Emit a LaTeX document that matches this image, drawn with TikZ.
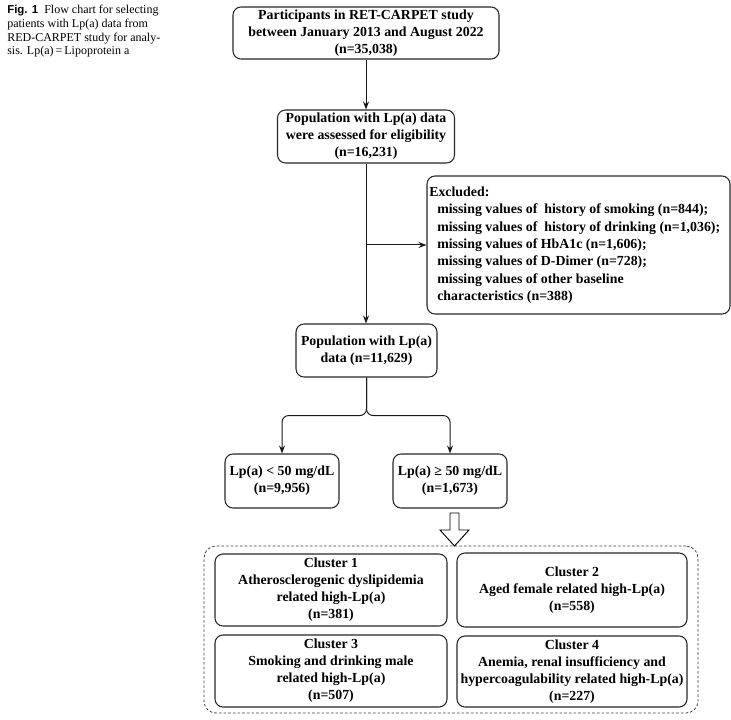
\documentclass[tikz,border=0pt]{standalone}
\usepackage{fontspec}
\setmainfont{Liberation Serif}
\newfontfamily\capsans{Liberation Sans}
\usetikzlibrary{arrows.meta}
\begin{document}
\begin{tikzpicture}[x=0.75pt,y=-0.75pt,
  bx/.style 2 args={draw=black!85, line width=0.8pt, rounded corners=6pt,
    minimum width=#1*0.75pt, minimum height=#2*0.75pt, inner sep=0pt,
    align=center, font=\fontsize{10.4}{12.8}\selectfont\bfseries},
  conn/.style={draw=black!90, line width=0.75pt, -{Stealth[length=6pt,width=4.5pt]}},
  grpbox/.style={draw=black!75, line width=0.6pt, dash pattern=on 2pt off 1.5pt,
    rounded corners=9pt, minimum width=494*0.75pt, minimum height=167*0.75pt, inner sep=0pt},
]
\useasboundingbox (0,0) rectangle (731,720);

% caption
\node[anchor=north west, align=left, inner sep=0pt,
      font=\fontsize{9}{10.3}\selectfont] (cap) at (7,5)
  {{\capsans\bfseries\fontsize{8.6}{10.3}\selectfont Fig. 1}\enspace Flow chart for selecting\\
   patients with Lp(a) data from\\
   RED-CARPET study for analy-\\
   sis. Lp(a)\,=\,Lipoprotein a};

% main boxes
\node[bx={266}{52}] (b1) at (366,33)
  {Participants in RET-CARPET study\\between January 2013 and August 2022\\(n=35,038)};
\node[bx={177}{53}] (b2) at (366,136.5)
  {Population with Lp(a) data\\were assessed for eligibility\\(n=16,231)};
\node[bx={303}{138}] (ex) at (578.5,245) {};
\node[anchor=west, align=left, inner sep=0pt,
      font=\fontsize{10.4}{13}\selectfont\bfseries] (extxt) at (429,245)
  {Excluded:\\
   \hspace*{6pt}missing values of\ \ history of smoking (n=844);\\
   \hspace*{6pt}missing values of\ \ history of drinking (n=1,036);\\
   \hspace*{6pt}missing values of HbA1c (n=1,606);\\
   \hspace*{6pt}missing values of D-Dimer (n=728);\\
   \hspace*{6pt}missing values of other baseline\\
   \hspace*{6pt}characteristics (n=388)};
\node[bx={141}{53}] (b3) at (366.5,350.5)
  {Population with Lp(a)\\data (n=11,629)};
\node[bx={114}{54}] (b4) at (282,481)
  {Lp(a) < 50 mg/dL\\(n=9,956)};
\node[bx={114}{54}] (b5) at (450,481)
  {Lp(a) ≥ 50 mg/dL\\(n=1,673)};

% cluster group
\node[grpbox] (grp) at (451,629.5) {};
\node[bx={232}{72}] (c1) at (331,590)
  {Cluster 1\\Atherosclerogenic dyslipidemia\\related high-Lp(a)\\(n=381)};
\node[bx={230}{74}] (c2) at (572,590)
  {Cluster 2\\Aged female related high-Lp(a)\\(n=558)};
\node[bx={232}{72}] (c3) at (331,671)
  {Cluster 3\\Smoking and drinking male\\related high-Lp(a)\\(n=507)};
\node[bx={230}{71}] (c4) at (572,671.5)
  {Cluster 4\\Anemia, renal insufficiency and\\hypercoagulability related high-Lp(a)\\(n=227)};

% connectors
\draw[conn] (b1.south) -- (b1.south |- b2.north);
\draw[conn] (b2.south) -- (b2.south |- b3.north);
\draw[conn] (b2.south |- ex.west) -- (ex.west);
\draw[conn, rounded corners=5pt] (b3.south) -- ++(0,38) -| (b4.north);
\draw[conn, rounded corners=5pt] (b3.south) -- ++(0,38) -| (b5.north);

% hollow arrow
\draw[line width=0.7pt, fill=white]
  (450,513) -- (459,513) -- (459,530) -- (469,530) -- (454.5,546)
  -- (440,530) -- (450,530) -- cycle;
\end{tikzpicture}
\end{document}
